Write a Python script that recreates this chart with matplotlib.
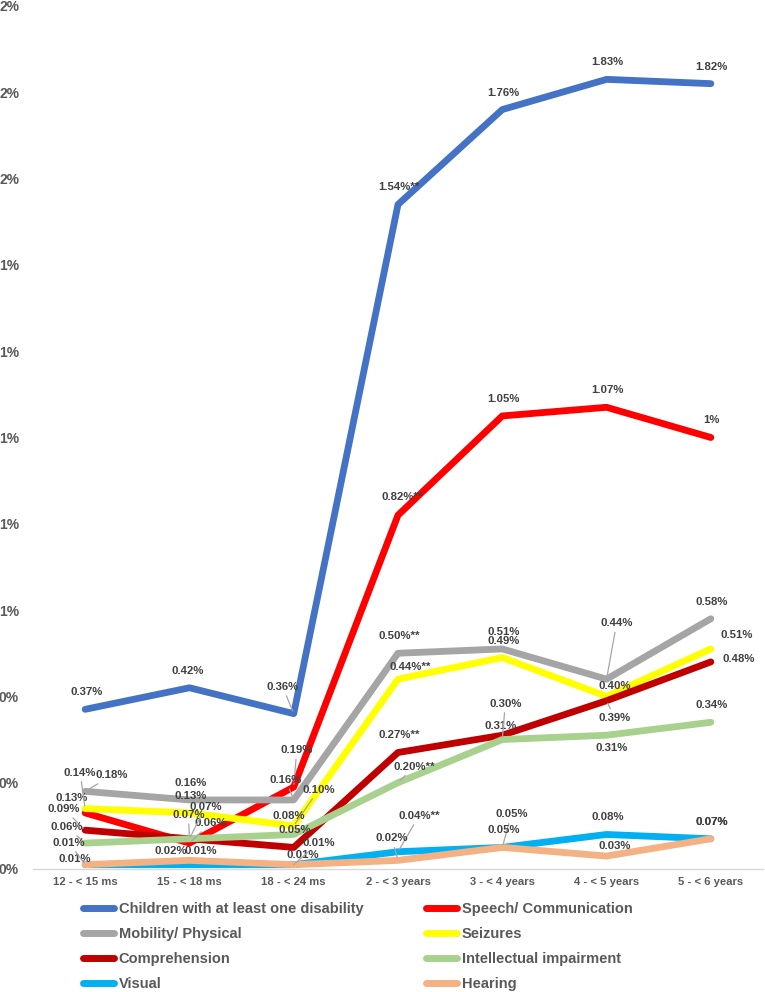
import matplotlib
matplotlib.use("Agg")
import matplotlib.pyplot as plt
from matplotlib import font_manager
from matplotlib.ticker import FuncFormatter

# ---------------- data ----------------
categories = ["12 - < 15 ms", "15 - < 18 ms", "18 - < 24 ms", "2 - < 3 years",
              "3 - < 4 years", "4 - < 5 years", "5 - < 6 years"]

series_names = ["Children with at least one disability", "Speech/ Communication",
                "Mobility/ Physical", "Seizures", "Comprehension",
                "Intellectual impairment", "Visual", "Hearing"]

any_disability = [0.37, 0.42, 0.36, 1.54, 1.76, 1.83, 1.82]
speech = [0.13, 0.06, 0.19, 0.82, 1.05, 1.07, 1.00]
mobility = [0.18, 0.16, 0.16, 0.50, 0.51, 0.44, 0.58]
seizures = [0.14, 0.13, 0.10, 0.44, 0.49, 0.40, 0.51]
comprehension = [0.09, 0.07, 0.05, 0.27, 0.31, 0.39, 0.48]
intellectual = [0.06, 0.07, 0.08, 0.20, 0.30, 0.31, 0.34]
visual = [0.01, 0.01, 0.01, 0.04, 0.05, 0.08, 0.07]
hearing = [0.01, 0.02, 0.01, 0.02, 0.05, 0.03, 0.07]

# significance markers (** on the 2 - < 3 years point)
sig_marks = [["", "", "", "**", "", "", ""]] * 7 + [["", "", "", "", "", "", ""]]

all_series = [any_disability, speech, mobility, seizures, comprehension,
              intellectual, visual, hearing]

colors = ["#4472C4", "#FF0000", "#A5A5A5", "#FFFF00", "#C00000",
          "#A9D18E", "#00B0F0", "#F4B183"]

# ---------------- fonts ----------------
names = {f.name for f in font_manager.fontManager.ttflist}
if "Liberation Sans Narrow" in names:
    fam = ["Liberation Sans Narrow", "DejaVu Sans"]
    k = 1.0
else:
    fam = ["Liberation Sans", "DejaVu Sans"]
    k = 0.84
plt.rcParams["font.family"] = fam

def fmt(v, mark):
    s = "1%" if abs(v - 1.0) < 1e-9 else f"{v:.2f}%"
    return s + mark

# label offsets in pixels (dx, dy up), and whether a leader line is drawn
default_off = (1, 17)
overrides = {
    (0, 1): (-2, 17, False), (0, 2): (-11, 27, True),
    (1, 0): (-14, 15, False), (1, 1): (21, 20, True), (1, 2): (3, 37, True),
    (1, 3): (4, 18, False),
    (2, 0): (27, 16, True), (2, 2): (-8, 20, True), (2, 5): (10, 56, True),
    (3, 0): (-5, 36, True), (3, 2): (25, 36, True), (3, 3): (12, 12, False),
    (3, 5): (8, 10, False), (3, 6): (26, 14, False),
    (4, 0): (-21, 21, True), (4, 1): (-1, 24, True), (4, 4): (-2, 9, False),
    (4, 5): (8, -17, True), (4, 6): (28, 3, False),
    (5, 0): (-18, 16, True), (5, 1): (16, 32, True), (5, 2): (-5, 18, False),
    (5, 3): (16, 16, True), (5, 4): (3, 36, True), (5, 5): (5, -13, False),
    (6, 0): (-10, 6, False), (6, 1): (11, 14, False), (6, 2): (9, 10, True),
    (6, 3): (21, 36, True), (6, 4): (9, 33, True),
    (7, 0): (-16, 22, True), (7, 1): (-19, 9, False), (7, 2): (25, 22, True),
    (7, 3): (-6, 22, True), (7, 5): (8, 10, False),
}

# ---------------- figure ----------------
fig = plt.figure(figsize=(7.65, 9.92), dpi=100)
ax = fig.add_axes([33 / 765, 1 - 869 / 992, 730 / 765, 863 / 992])

x = list(range(len(categories)))
handles = []
for si, (vals, name, col) in enumerate(zip(all_series, series_names, colors)):
    ln, = ax.plot(x, vals, color=col, lw=4.9, solid_capstyle="round",
                  solid_joinstyle="round", label=name, zorder=2 + si)
    handles.append(ln)

for si, vals in enumerate(all_series):
    for ci, v in enumerate(vals):
        dx, dy, lead = overrides.get((si, ci), (default_off[0], default_off[1], False))
        txt = fmt(v, sig_marks[si][ci])
        kw = {}
        if lead:
            kw["arrowprops"] = dict(arrowstyle="-", color="#A6A6A6", lw=0.9,
                                    shrinkA=1, shrinkB=2)
        ax.annotate(txt, xy=(ci, v), xytext=(dx, dy), textcoords="offset pixels",
                    ha="center", va="center", fontsize=9.8 * k, fontweight="bold",
                    color="#404040", zorder=20, annotation_clip=False, **kw)

ax.set_xlim(-0.5, 6.5)
ax.set_ylim(0, 2.0)
ax.set_yticks([0.0, 0.2, 0.4, 0.6, 0.8, 1.0, 1.2, 1.4, 1.6, 1.8, 2.0])
ax.yaxis.set_major_formatter(FuncFormatter(lambda v, p: f"{v:.0f}%"))
ax.set_xticks(x)
ax.set_xticklabels(categories)
for lab in ax.get_xticklabels():
    lab.set_fontweight("bold")
    lab.set_fontsize(9.6 * k)
    lab.set_color("#595959")
for lab in ax.get_yticklabels():
    lab.set_fontweight("bold")
    lab.set_fontsize(10)
    lab.set_color("#595959")
ax.tick_params(axis="both", length=0)
ax.tick_params(axis="y", pad=10)
ax.tick_params(axis="x", pad=6)
for s in ["top", "right", "left"]:
    ax.spines[s].set_visible(False)
ax.spines["bottom"].set_color("#D9D9D9")
ax.spines["bottom"].set_linewidth(1.0)
ax.grid(False)

order = [0, 2, 4, 6, 1, 3, 5, 7]
leg = fig.legend([handles[i] for i in order], [series_names[i] for i in order],
                 ncol=2, loc="upper left", bbox_to_anchor=(83 / 765, 1 - 902 / 992),
                 frameon=False, borderpad=0, borderaxespad=0,
                 handlelength=2.1, handletextpad=0.35, columnspacing=4.3,
                 labelspacing=0.75,
                 prop={"family": fam, "weight": "bold", "size": 12.5 * k})
for t in leg.get_texts():
    t.set_color("#595959")
for h in leg.legend_handles:
    h.set_linewidth(5)
    h.set_solid_capstyle("round")

fig.savefig("out.png", dpi=100)
